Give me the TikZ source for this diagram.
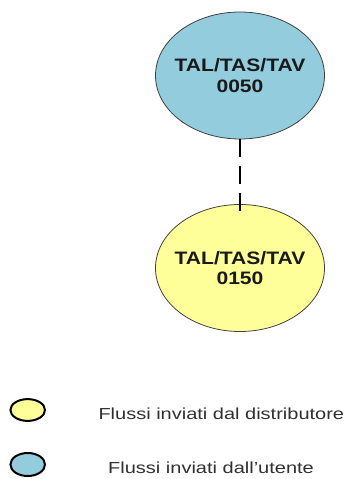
\documentclass[tikz,border=0pt]{standalone}
\usepackage{fontspec}
\usetikzlibrary{shapes.geometric}
\newfontfamily\lblfont[FakeStretch=1.17]{Liberation Sans}
\newfontfamily\legfont[FakeStretch=1.25]{Liberation Sans}
\definecolor{userblue}{RGB}{147,205,221}
\definecolor{distyellow}{RGB}{255,255,153}
\definecolor{legtext}{RGB}{48,48,48}
\tikzset{
  flow/.style={ellipse, draw=black!75, line width=0.8pt, minimum width=169pt, minimum height=127pt, inner sep=0pt},
  flowtxt/.style={inner sep=0pt, align=center, text=black!90, font=\lblfont\bfseries\fontsize{18}{20.5}\selectfont},
  legmark/.style={ellipse, draw=black, line width=2pt, minimum width=34.6pt, minimum height=21.8pt, inner sep=0pt},
  legtxt/.style={anchor=base west, inner sep=0pt, text=legtext, font=\legfont\fontsize{16}{19}\selectfont},
  link/.style={line width=2pt, dash pattern=on 18pt off 9pt}
}
\begin{document}
\begin{tikzpicture}[x=1pt,y=-1pt]
\useasboundingbox (0,0) rectangle (349,479);
\node[flow, fill=userblue] (u) at (240,75.5) {};
\node[flowtxt] (ut) at (u.center) {TAL/TAS/TAV\\0050};
\node[flow, fill=distyellow] (d) at (240,268) {};
\node[flowtxt] (dt) at (d.center) {TAL/TAS/TAV\\0150};
\draw[link] (u.south) -- ([yshift=-9pt]d.north);
\node[legmark, fill=distyellow] (ly) at (27.7,410) {};
\node[legmark, fill=userblue, minimum height=23pt] (lb) at (27.7,464.5) {};
\node[legtxt] (t1) at (98.3,419) {Flussi inviati dal distributore};
\node[legtxt] (t2) at (108,473) {Flussi inviati dall’utente};
\end{tikzpicture}
\end{document}
